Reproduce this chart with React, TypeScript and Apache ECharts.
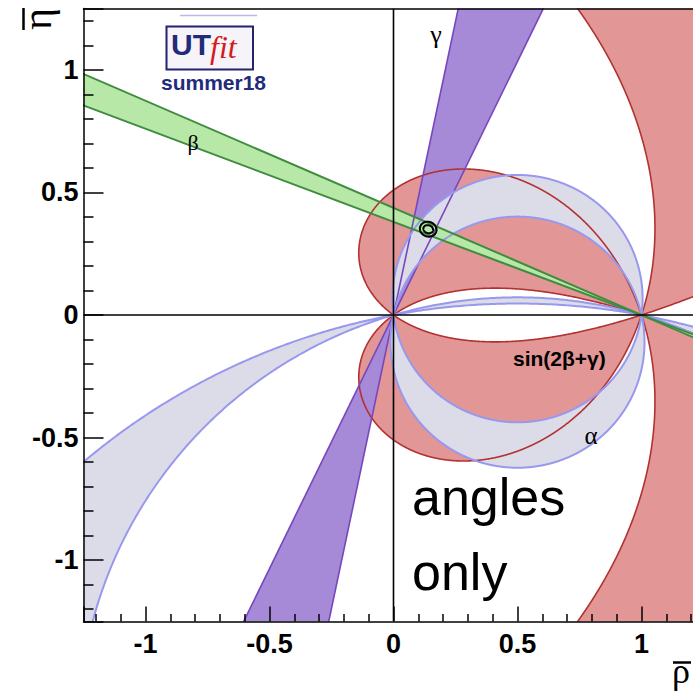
import React, { useEffect, useRef } from "react";
import * as echarts from "echarts";

// ---------------- values ----------------
const axisRange = [-1.25, 1.25];
// beta band: lines through (1,0) at angle beta (deg)
const betaBandDeg = [20.8, 23.6];
// gamma band: lines through (0,0) at angle gamma (deg)
const gammaBandDeg = [64.2, 78.2];
// alpha bands (angle at the apex, upper half plane; lower half uses 180-alpha)
const alphaBandsDeg = [
  [82.4, 102.5],
  [163.6, 169.3],
];
// sin(2beta+gamma) bands in terms of 2beta+gamma (deg), upper half plane
const sin2bgBandsDeg = [
  [36, 144],
  [216, 324],
];
// best-fit contours
const bestFitCenter = [0.14, 0.35];
const bestFitSemiAxes = [
  [0.034, 0.03],
  [0.02, 0.016],
];
const bestFitTiltDeg = -20;

// ---------------- geometry ----------------
const D = Math.PI / 180;
const RMAX = 6;
const NSTEP = 1800;

const clampT = (t: number) => Math.min(Math.max(t, 0), RMAX);

// distance from origin along ray g where 2b+g == theta (upper half plane)
function tTheta(theta: number, g: number) {
  if (theta <= g) return 0;
  if (theta >= 360 - g) return RMAX;
  return clampT(Math.sin(((theta - g) / 2) * D) / Math.sin(((theta + g) / 2) * D));
}
// distance from origin along ray g where apex angle == a (upper half plane)
function tAlpha(a: number, g: number) {
  if (a >= 180 - g) return 0;
  if (a <= 0) return RMAX;
  return clampT(Math.sin((g + a) * D) / Math.sin(a * D));
}
function polarBand(
  tIn: (g: number) => number,
  tOut: (g: number) => number,
  sign: number
) {
  const outer: number[][] = [];
  const inner: number[][] = [];
  for (let i = 0; i <= NSTEP; i++) {
    const g = (i * 180) / NSTEP;
    const c = Math.cos(g * D);
    const s = Math.sin(g * D);
    const to = tOut(g);
    const ti = tIn(g);
    outer.push([to * c, sign * to * s]);
    inner.push([ti * c, sign * ti * s]);
  }
  return outer.concat(inner.reverse());
}

const redPolys: number[][][] = [];
for (const sign of [1, -1]) {
  for (const [t1, t2] of sin2bgBandsDeg) {
    redPolys.push(polarBand((g) => tTheta(t1, g), (g) => tTheta(t2, g), sign));
  }
}
const alphaPolys: number[][][] = [];
for (const [a1, a2] of alphaBandsDeg) {
  alphaPolys.push(polarBand((g) => tAlpha(a2, g), (g) => tAlpha(a1, g), 1));
  alphaPolys.push(
    polarBand((g) => tAlpha(180 - a1, g), (g) => tAlpha(180 - a2, g), -1)
  );
}
const ray = (o: number[], ang: number) => [
  o[0] + RMAX * Math.cos(ang * D),
  o[1] + RMAX * Math.sin(ang * D),
];
const gammaPolys = [
  [[0, 0], ray([0, 0], gammaBandDeg[0]), ray([0, 0], gammaBandDeg[1])],
  [[0, 0], ray([0, 0], gammaBandDeg[0] + 180), ray([0, 0], gammaBandDeg[1] + 180)],
];
const gammaLines = gammaBandDeg.map((g) => [ray([0, 0], g + 180), ray([0, 0], g)]);
const betaPolys = [
  [[1, 0], ray([1, 0], 180 - betaBandDeg[0]), ray([1, 0], 180 - betaBandDeg[1])],
  [[1, 0], ray([1, 0], -betaBandDeg[0]), ray([1, 0], -betaBandDeg[1])],
];
const betaLines = betaBandDeg.map((b) => [ray([1, 0], -b), ray([1, 0], 180 - b)]);
const ellipses = bestFitSemiAxes.map(([a, b]) => {
  const pts: number[][] = [];
  const ct = Math.cos(bestFitTiltDeg * D);
  const st = Math.sin(bestFitTiltDeg * D);
  for (let k = 0; k < 72; k++) {
    const u = (k / 72) * 2 * Math.PI;
    const x = a * Math.cos(u);
    const y = b * Math.sin(u);
    pts.push([bestFitCenter[0] + x * ct - y * st, bestFitCenter[1] + x * st + y * ct]);
  }
  return pts;
});
const zeroLines = [
  [[axisRange[0], 0], [axisRange[1], 0]],
  [[0, axisRange[0]], [0, axisRange[1]]],
];

// ---------------- styling ----------------
const RED_FILL = "#e29696";
const RED_LINE = "#b23232";
const PURPLE_FILL = "#a68ad8";
const PURPLE_LINE = "#7846bc";
const LAV_FILL = "#dcdce8";
const BLUE_LINE = "#9898ee";
const GREEN_FILL = "#b7e8a8";
const GREEN_LINE = "#3f8c3f";

function shapeSeries(
  polys: number[][][],
  kind: "polygon" | "polyline",
  style: any
) {
  return {
    type: "custom",
    coordinateSystem: "cartesian2d",
    clip: true,
    silent: true,
    animation: false,
    data: polys.map(() => [0, 0]),
    renderItem: (params: any, api: any) => {
      const pts = polys[params.dataIndex].map((p) => api.coord(p));
      return { type: kind, shape: { points: pts }, style };
    },
  };
}

const labelFont = {
  color: "#000",
  fontFamily: "Liberation Sans",
  fontWeight: "bold",
  fontSize: 27,
};
const tickStyle = { color: "#000", width: 1.5 };

const option: any = {
  animation: false,
  backgroundColor: "#fff",
  grid: {
    left: 83.5,
    top: 8.5,
    width: 620,
    height: 613,
    containLabel: false,
    outerBoundsMode: "none",
  },
  xAxis: [
    {
      type: "value",
      min: axisRange[0],
      max: axisRange[1],
      splitNumber: 5,
      z: 10,
      position: "bottom",
      axisLine: { show: true, onZero: false, lineStyle: tickStyle },
      axisTick: { show: true, inside: true, length: 15, lineStyle: tickStyle },
      minorTick: { show: true, splitNumber: 5, length: 7.5, lineStyle: tickStyle },
      splitLine: { show: false },
      minorSplitLine: { show: false },
      axisLabel: { ...labelFont, margin: 9, showMinLabel: false, showMaxLabel: false },
    },
    {
      type: "value",
      min: axisRange[0],
      max: axisRange[1],
      z: 10,
      position: "top",
      axisLine: { show: true, onZero: false, lineStyle: tickStyle },
      axisTick: { show: false },
      axisLabel: { show: false },
      splitLine: { show: false },
    },
  ],
  yAxis: [
    {
      type: "value",
      min: axisRange[0],
      max: axisRange[1],
      splitNumber: 5,
      z: 10,
      position: "left",
      axisLine: { show: true, onZero: false, lineStyle: tickStyle },
      axisTick: { show: true, inside: true, length: 20, lineStyle: tickStyle },
      minorTick: { show: true, splitNumber: 5, length: 10, lineStyle: tickStyle },
      splitLine: { show: false },
      minorSplitLine: { show: false },
      axisLabel: { ...labelFont, margin: 5, showMinLabel: false, showMaxLabel: false },
    },
  ],
  series: [
    shapeSeries(redPolys, "polygon", { fill: RED_FILL, stroke: "none" }),
    shapeSeries(gammaPolys, "polygon", { fill: PURPLE_FILL, stroke: "none" }),
    shapeSeries(alphaPolys, "polygon", { fill: LAV_FILL, stroke: "none" }),
    shapeSeries(betaPolys, "polygon", { fill: GREEN_FILL, stroke: "none" }),
    shapeSeries(redPolys, "polygon", { fill: "none", stroke: RED_LINE, lineWidth: 1.6 }),
    shapeSeries(gammaLines, "polyline", { fill: "none", stroke: PURPLE_LINE, lineWidth: 1.6 }),
    shapeSeries(alphaPolys, "polygon", { fill: "none", stroke: BLUE_LINE, lineWidth: 2 }),
    shapeSeries(betaLines, "polyline", { fill: "none", stroke: GREEN_LINE, lineWidth: 2 }),
    shapeSeries(ellipses, "polygon", { fill: "none", stroke: "#000", lineWidth: 2 }),
    shapeSeries(zeroLines, "polyline", { fill: "none", stroke: "#000", lineWidth: 1.6 }),
  ],
  graphic: [
    // band labels
    { type: "text", x: 436, y: 34, z: 100, style: { text: "γ", fontSize: 26, fontFamily: "Liberation Serif", fill: "#000", align: "center", verticalAlign: "middle", textAlign: "center", textVerticalAlign: "middle" } },
    { type: "text", x: 193, y: 142, z: 100, style: { text: "β", fontSize: 22, fontFamily: "Liberation Serif", fill: "#000", align: "center", verticalAlign: "middle", textAlign: "center", textVerticalAlign: "middle" } },
    { type: "text", x: 591, y: 435, z: 100, style: { text: "α", fontSize: 25, fontFamily: "Liberation Serif", fill: "#000", align: "center", verticalAlign: "middle", textAlign: "center", textVerticalAlign: "middle" } },
    { type: "text", x: 513, y: 358, z: 100, style: { text: "sin(2β+γ)", fontSize: 21, fontWeight: "bold", fontFamily: "Liberation Sans", fill: "#000", align: "left", verticalAlign: "middle", textAlign: "left", textVerticalAlign: "middle" } },
    { type: "text", x: 412, y: 497, z: 100, style: { text: "angles", fontSize: 52, fontFamily: "Liberation Sans", fill: "#000", align: "left", verticalAlign: "middle", textAlign: "left", textVerticalAlign: "middle" } },
    { type: "text", x: 412, y: 572, z: 100, style: { text: "only", fontSize: 52, fontFamily: "Liberation Sans", fill: "#000", align: "left", verticalAlign: "middle", textAlign: "left", textVerticalAlign: "middle" } },
    // logo
    { type: "line", z: 100, shape: { x1: 180, y1: 15.5, x2: 257, y2: 15.5 }, style: { stroke: "#b8b8ea", lineWidth: 1.5 } },
    { type: "rect", z: 100, shape: { x: 166.5, y: 26.5, width: 86.5, height: 43 }, style: { fill: "#f6f3f9", stroke: "#23236e", lineWidth: 2 } },
    { type: "text", x: 171, y: 44.5, z: 101, style: { text: "UT", fontSize: 30, fontWeight: "bold", fontFamily: "Liberation Sans", fill: "#222a7a", align: "left", verticalAlign: "middle", textAlign: "left", textVerticalAlign: "middle" } },
    { type: "text", x: 210, y: 47, z: 101, style: { text: "fit", fontSize: 32, fontStyle: "italic", fontFamily: "Liberation Serif", fill: "#d41c1c", align: "left", verticalAlign: "middle", textAlign: "left", textVerticalAlign: "middle" } },
    { type: "text", x: 213.5, y: 82.5, z: 101, style: { text: "summer18", fontSize: 21, fontWeight: "bold", fontFamily: "Liberation Sans", fill: "#222a7a", align: "center", verticalAlign: "middle", textAlign: "center", textVerticalAlign: "middle" } },
    // axis titles
    { type: "line", z: 100, shape: { x1: 23.5, y1: 8, x2: 23.5, y2: 30 }, style: { stroke: "#000", lineWidth: 2.5 } },
    { type: "text", x: 37, y: 19, rotation: Math.PI / 2, z: 100, style: { text: "η", fontSize: 42, fontFamily: "Liberation Serif", fill: "#000", align: "center", verticalAlign: "middle", textAlign: "center", textVerticalAlign: "middle" } },
    { type: "line", z: 100, shape: { x1: 673, y1: 662.5, x2: 691, y2: 662.5 }, style: { stroke: "#000", lineWidth: 2.5 } },
    { type: "text", x: 672, y: 671, z: 100, style: { text: "ρ", fontSize: 36, fontFamily: "Liberation Serif", fill: "#000", align: "left", verticalAlign: "middle", textAlign: "left", textVerticalAlign: "middle" } },
  ],
};

export default function App() {
  const ref = useRef<HTMLDivElement>(null);
  useEffect(() => {
    document.body.style.margin = "0";
    document.body.style.overflow = "hidden";
    document.documentElement.style.overflow = "hidden";
    const chart = echarts.init(ref.current!, null, { renderer: "svg" });
    chart.setOption(option);
    return () => chart.dispose();
  }, []);
  return (
    <div
      ref={ref}
      style={{ position: "fixed", left: 0, top: 0, width: 710, height: 692, background: "#fff" }}
    />
  );
}
